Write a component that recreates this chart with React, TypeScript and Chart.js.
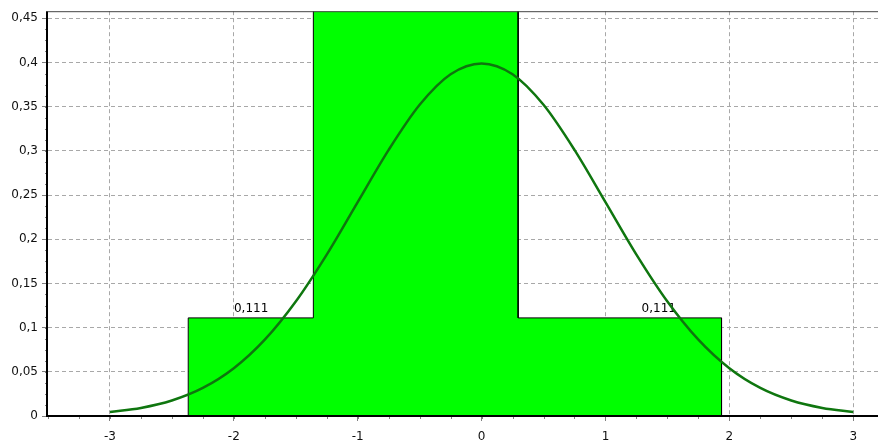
import { useEffect, useRef } from 'react';
import { Chart, registerables } from 'chart.js';

Chart.register(...registerables);

// Histogram bins (edges on x, heights on y)
const binEdges = [-2.368, -1.358, 0.295, 1.937];
const binHeights = [0.111, 0.778, 0.111];
const binLabels = ['0,111', '0,778', '0,111'];
const binLabelX = [-1.86, -0.53, 1.43];

// Fitted normal curve
const curveX = [-3, -2.75, -2.5, -2.25, -2, -1.75, -1.5, -1.25, -1, -0.75, -0.5, -0.25, 0,
  0.25, 0.5, 0.75, 1, 1.25, 1.5, 1.75, 2, 2.25, 2.5, 2.75, 3];
const curveY = [0.0044, 0.0091, 0.0175, 0.0317, 0.054, 0.0863, 0.1295, 0.1826, 0.242, 0.3011, 0.3521, 0.3867, 0.3989,
  0.3867, 0.3521, 0.3011, 0.242, 0.1826, 0.1295, 0.0863, 0.054, 0.0317, 0.0175, 0.0091, 0.0044];

// Axes
const xMin = -3.5;
const xMax = 3.2;
const yMin = 0;
const yMax = 0.458;
const xTickValues = [-3, -2, -1, 0, 1, 2, 3];
const xTickLabels = ['-3', '-2', '-1', '0', '1', '2', '3'];
const yTickValues = [0, 0.05, 0.1, 0.15, 0.2, 0.25, 0.3, 0.35, 0.4, 0.45];
const yTickLabels = ['0', '0,05', '0,1', '0,15', '0,2', '0,25', '0,3', '0,35', '0,4', '0,45'];
const xMinorStep = 0.25;
const yMinorStep = 0.0125;

const FONT = '"DejaVu Sans", sans-serif';

function labelFor(values: number[], labels: string[], v: number): string {
  for (let i = 0; i < values.length; i++) {
    if (Math.abs(values[i] - v) < 1e-6) return labels[i];
  }
  return '';
}

const decorPlugin = {
  id: 'decor',
  beforeDatasetDraw(chart: any, args: any) {
    if (args.index !== 0) return;
    const { ctx, chartArea: a } = chart;
    const x = chart.scales.x;
    const y = chart.scales.y;
    ctx.save();
    ctx.beginPath();
    ctx.rect(a.left, a.top, a.right - a.left, a.bottom - a.top);
    ctx.clip();
    ctx.font = '12px ' + FONT;
    ctx.fillStyle = '#000';
    ctx.textAlign = 'center';
    ctx.textBaseline = 'alphabetic';
    binLabels.forEach((t, i) => {
      ctx.fillText(t, x.getPixelForValue(binLabelX[i]), y.getPixelForValue(binHeights[i]) - 6);
    });
    ctx.restore();
  },
  afterDatasetsDraw(chart: any) {
    const { ctx, chartArea: a } = chart;
    const x = chart.scales.x;
    const y = chart.scales.y;
    ctx.save();
    // minor ticks
    ctx.strokeStyle = '#808080';
    ctx.lineWidth = 1;
    ctx.beginPath();
    for (let v = Math.ceil(xMin / xMinorStep) * xMinorStep; v <= xMax + 1e-9; v += xMinorStep) {
      const px = Math.round(x.getPixelForValue(v)) + 0.5;
      ctx.moveTo(px, a.bottom);
      ctx.lineTo(px, a.bottom + 3);
    }
    for (let v = yMin; v <= yMax + 1e-9; v += yMinorStep) {
      const py = Math.round(y.getPixelForValue(v)) + 0.5;
      ctx.moveTo(a.left - 3, py);
      ctx.lineTo(a.left, py);
    }
    ctx.stroke();
    // top border
    ctx.strokeStyle = '#444';
    ctx.lineWidth = 1;
    ctx.beginPath();
    ctx.moveTo(a.left, a.top + 0.5);
    ctx.lineTo(a.right, a.top + 0.5);
    ctx.stroke();
    // axis lines
    ctx.strokeStyle = '#000';
    ctx.lineWidth = 2;
    ctx.beginPath();
    ctx.moveTo(a.left - 1, a.top);
    ctx.lineTo(a.left - 1, a.bottom + 1);
    ctx.moveTo(a.left - 1, a.bottom);
    ctx.lineTo(a.right, a.bottom);
    ctx.stroke();
    ctx.restore();
  },
};

export default function App() {
  const ref = useRef<HTMLCanvasElement | null>(null);

  useEffect(() => {
    if (!ref.current) return;

    const histPoints: { x: number; y: number }[] = [{ x: binEdges[0], y: 0 }];
    binHeights.forEach((h, i) => {
      histPoints.push({ x: binEdges[i], y: h });
      histPoints.push({ x: binEdges[i + 1], y: h });
    });
    histPoints.push({ x: binEdges[binEdges.length - 1], y: 0 });

    const curvePoints = curveX.map((v, i) => ({ x: v, y: curveY[i] }));

    const chart = new Chart(ref.current, {
      type: 'line',
      data: {
        datasets: [
          {
            label: 'Normal',
            data: curvePoints,
            borderColor: '#0f760f',
            borderWidth: 2.5,
            pointRadius: 0,
            cubicInterpolationMode: 'monotone',
            fill: false,
          },
          {
            label: 'Histogram',
            data: histPoints,
            borderColor: '#000',
            borderWidth: 1,
            backgroundColor: '#00ff00',
            pointRadius: 0,
            tension: 0,
            fill: 'origin',
          },
        ],
      },
      plugins: [decorPlugin],
      options: {
        animation: false,
        responsive: false,
        devicePixelRatio: 1,
        layout: { padding: { top: 10, right: 0, left: 0, bottom: 0 } },
        plugins: {
          legend: { display: false },
          tooltip: { enabled: false },
          title: { display: false },
        },
        scales: {
          x: {
            type: 'linear',
            min: xMin,
            max: xMax,
            afterBuildTicks: (s: any) => {
              s.ticks = xTickValues.map((v) => ({ value: v }));
            },
            afterFit: (s: any) => {
              s.height = 28;
            },
            ticks: {
              autoSkip: false,
              maxRotation: 0,
              padding: 9,
              color: '#111',
              font: { family: FONT, size: 12 },
              callback: (v: any) => labelFor(xTickValues, xTickLabels, Number(v)),
            },
            grid: {
              color: '#a8a8a8',
              lineWidth: 1,
              drawTicks: true,
              tickLength: 5,
              tickColor: '#808080',
              tickBorderDash: [],
            },
            border: { display: false, dash: [4, 3] },
          },
          y: {
            type: 'linear',
            min: yMin,
            max: yMax,
            afterBuildTicks: (s: any) => {
              s.ticks = yTickValues.map((v) => ({ value: v }));
            },
            afterFit: (s: any) => {
              s.width = 48;
            },
            ticks: {
              autoSkip: false,
              padding: 4,
              color: '#111',
              font: { family: FONT, size: 12 },
              callback: (v: any) => labelFor(yTickValues, yTickLabels, Number(v)),
            },
            grid: {
              color: '#a8a8a8',
              lineWidth: 1,
              drawTicks: true,
              tickLength: 6,
              tickColor: '#808080',
              tickBorderDash: [],
            },
            border: { display: false, dash: [4, 3] },
          },
        },
      } as any,
    });

    return () => chart.destroy();
  }, []);

  return (
    <div style={{ position: 'fixed', left: 0, top: 0, width: 878, height: 444, background: '#fff' }}>
      <canvas ref={ref} width={878} height={444} style={{ display: 'block' }} />
    </div>
  );
}
